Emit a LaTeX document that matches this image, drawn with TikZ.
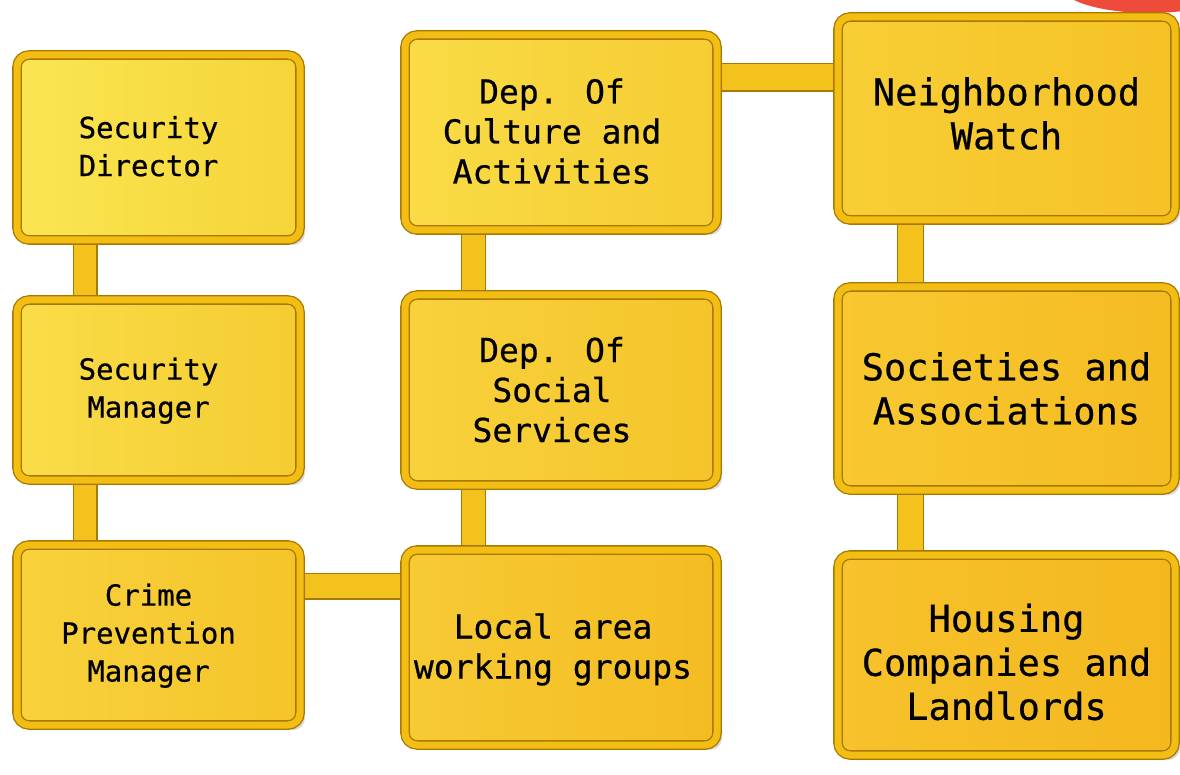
\documentclass[tikz,border=0pt]{standalone}
\usepackage{fontspec}
\newfontfamily\boxfont[FakeBold=0.6]{DejaVu Sans Mono}
\usetikzlibrary{shadows,calc}
\definecolor{rimdark}{HTML}{A87800}
\definecolor{rimgold}{HTML}{F2BE14}
\definecolor{barfill}{HTML}{F4C21C}
\definecolor{blobred}{HTML}{EE4B3B}
\definecolor{ya}{HTML}{FAE652}
\definecolor{yb}{HTML}{F6D438}
\definecolor{yc}{HTML}{F9DD48}
\definecolor{yd}{HTML}{F5CC32}
\definecolor{ye}{HTML}{F8D23C}
\definecolor{yf}{HTML}{F5C42A}
\definecolor{yg}{HTML}{F9DC46}
\definecolor{yh}{HTML}{F6CC32}
\definecolor{yi}{HTML}{F7CA34}
\definecolor{yj}{HTML}{F4BC22}
\definecolor{yk}{HTML}{F8CE36}
\definecolor{yl}{HTML}{F5C226}
\definecolor{ym}{HTML}{F8C830}
\definecolor{yn}{HTML}{F5BC22}
\definecolor{yo}{HTML}{F7C22C}
\definecolor{yp}{HTML}{F4B81E}
\pgfdeclarelayer{bg}
\pgfsetlayers{bg,main}
\newcommand\lefttext[3]{\hspace*{-#1}\raisebox{-#2}[\height][\depth]{\begin{tabular}{@{}c@{}}#3\end{tabular}}}
\begin{document}
\begin{tikzpicture}[x=1pt,y=-1pt,
  ybox/.style 2 args={rectangle, rounded corners=12pt, draw=rimdark, line width=1.3pt,
    double=rimgold, double distance=7pt, left color=#1, right color=#2,
    drop shadow={shadow xshift=5pt, shadow yshift=-5pt, opacity=0.3},
    text=black, inner sep=0pt},
  sz1/.style={font=\boxfont\fontsize{29}{38}\selectfont},
  sz2/.style={font=\boxfont\fontsize{33}{40}\selectfont},
  sz3/.style={font=\boxfont\fontsize{37}{44}\selectfont},
  bar/.style={draw=rimdark, line width=1.2pt, double=barfill, double distance=#1},
  bar/.default=24pt]
\useasboundingbox (0,0) rectangle (1180,775);
\begin{scope}
\clip (0,0) rectangle (1180,775);
\begin{pgfonlayer}{bg}
\fill[blobred] (1150,-15) ellipse (90 and 28);
\end{pgfonlayer}
% column 1
\node[ybox={ya}{yb}, sz1, minimum width=283pt, minimum height=185pt] (sd) at (158.5,147.5) {\lefttext{20pt}{2pt}{Security\\Director}};
\node[ybox={yc}{yd}, sz1, minimum width=283pt, minimum height=180pt] (sm) at (158.5,390) {\lefttext{20pt}{1pt}{Security\\Manager}};
\node[ybox={ye}{yf}, sz1, minimum width=283pt, minimum height=180pt] (cp) at (158.5,635) {\lefttext{20pt}{1pt}{Crime\\Prevention\\Manager}};
% column 2
\node[ybox={yg}{yh}, sz2, minimum width=312pt, minimum height=195pt] (dc) at (561,132.5) {\lefttext{18pt}{3pt}{Dep. Of\\Culture and\\Activities}};
\node[ybox={ye}{yf}, sz2, minimum width=312pt, minimum height=190pt] (ds) at (561,390) {\lefttext{18pt}{4pt}{Dep. Of\\Social\\Services}};
\node[ybox={yi}{yj}, sz2, minimum width=312pt, minimum height=195pt] (la) at (561,647.5) {\lefttext{16pt}{3pt}{Local area\\working groups}};
% column 3
\node[ybox={yk}{yl}, sz3, minimum width=337pt, minimum height=203pt] (nw) at (1006.5,118.5) {\lefttext{0pt}{0pt}{Neighborhood\\Watch}};
\node[ybox={ym}{yn}, sz3, minimum width=337pt, minimum height=203pt] (sa) at (1006.5,388.5) {\lefttext{0pt}{5pt}{Societies and\\Associations}};
\node[ybox={yo}{yp}, sz3, minimum width=337pt, minimum height=200pt] (hc) at (1006.5,655) {\lefttext{0pt}{12pt}{Housing\\Companies and\\Landlords}};
\begin{pgfonlayer}{bg}
\draw[bar=22pt] ([xshift=69pt]sd.south west) -- ([xshift=69pt]sm.north west);
\draw[bar=22pt] ([xshift=69pt]sm.south west) -- ([xshift=69pt]cp.north west);
\draw[bar=23pt] ([xshift=69pt]dc.south west) -- ([xshift=69pt]ds.north west);
\draw[bar=23pt] ([xshift=69pt]ds.south west) -- ([xshift=69pt]la.north west);
\draw[bar=25pt] ([xshift=73pt]nw.south west) -- ([xshift=73pt]sa.north west);
\draw[bar=25pt] ([xshift=73pt]sa.south west) -- ([xshift=73pt]hc.north west);
\draw[bar=26pt] ([yshift=-43pt]dc.north east) -- ([yshift=-43pt]dc.north east -| nw.west);
\draw[bar=24pt] ([yshift=-42pt]cp.north east) -- ([yshift=-42pt]cp.north east -| la.west);
\end{pgfonlayer}
\end{scope}
\end{tikzpicture}
\end{document}
